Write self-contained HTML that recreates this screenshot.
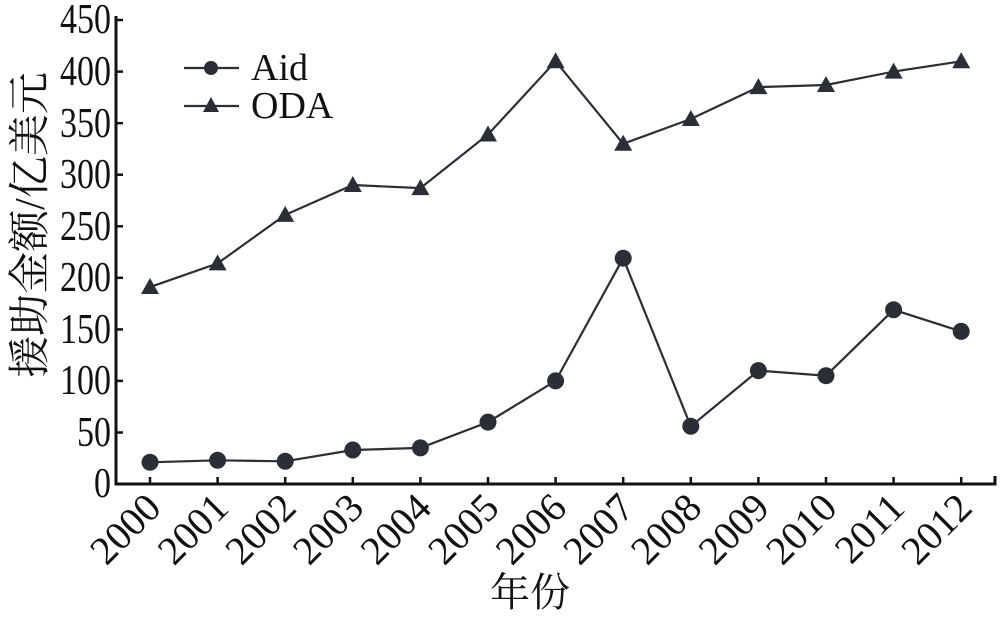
<!DOCTYPE html>
<html><head><meta charset="utf-8"><style>body{margin:0;background:#fff}svg,text{font-family:"Liberation Serif","Times New Roman","Noto Serif CJK SC",serif}</style></head><body>
<svg width="1000" height="614" xmlns="http://www.w3.org/2000/svg">
<path d="M116,16 V484 H995 V476" stroke="#111" stroke-width="3" fill="none"/>
<g stroke="#111" stroke-width="2.5">
<line x1="116" y1="432.5" x2="123" y2="432.5"/><line x1="116" y1="380.9" x2="123" y2="380.9"/><line x1="116" y1="329.4" x2="123" y2="329.4"/><line x1="116" y1="277.8" x2="123" y2="277.8"/><line x1="116" y1="226.3" x2="123" y2="226.3"/><line x1="116" y1="174.7" x2="123" y2="174.7"/><line x1="116" y1="123.2" x2="123" y2="123.2"/><line x1="116" y1="71.6" x2="123" y2="71.6"/><line x1="116" y1="20" x2="123" y2="20"/>
<line x1="150" y1="484" x2="150" y2="477"/><line x1="217.6" y1="484" x2="217.6" y2="477"/><line x1="285.2" y1="484" x2="285.2" y2="477"/><line x1="352.8" y1="484" x2="352.8" y2="477"/><line x1="420.4" y1="484" x2="420.4" y2="477"/><line x1="488" y1="484" x2="488" y2="477"/><line x1="555.6" y1="484" x2="555.6" y2="477"/><line x1="623.2" y1="484" x2="623.2" y2="477"/><line x1="690.8" y1="484" x2="690.8" y2="477"/><line x1="758.4" y1="484" x2="758.4" y2="477"/><line x1="826" y1="484" x2="826" y2="477"/><line x1="893.6" y1="484" x2="893.6" y2="477"/><line x1="961.2" y1="484" x2="961.2" y2="477"/>
</g>
<g font-size="42" fill="#111">
<text x="94" y="497" textLength="17" lengthAdjust="spacingAndGlyphs">0</text>
<text x="77" y="446" textLength="34" lengthAdjust="spacingAndGlyphs">50</text>
<text x="60" y="394" textLength="51" lengthAdjust="spacingAndGlyphs">100</text>
<text x="60" y="343" textLength="51" lengthAdjust="spacingAndGlyphs">150</text>
<text x="60" y="291" textLength="51" lengthAdjust="spacingAndGlyphs">200</text>
<text x="60" y="240" textLength="51" lengthAdjust="spacingAndGlyphs">250</text>
<text x="60" y="188" textLength="51" lengthAdjust="spacingAndGlyphs">300</text>
<text x="60" y="137" textLength="51" lengthAdjust="spacingAndGlyphs">350</text>
<text x="60" y="85" textLength="51" lengthAdjust="spacingAndGlyphs">400</text>
<text x="60" y="33" textLength="51" lengthAdjust="spacingAndGlyphs">450</text>
</g>
<g font-size="40" fill="#111" text-anchor="end">
<text transform="translate(163,510) rotate(-45)">2000</text>
<text transform="translate(230.6,510) rotate(-45)">2001</text>
<text transform="translate(298.2,510) rotate(-45)">2002</text>
<text transform="translate(365.8,510) rotate(-45)">2003</text>
<text transform="translate(433.4,510) rotate(-45)">2004</text>
<text transform="translate(501,510) rotate(-45)">2005</text>
<text transform="translate(568.6,510) rotate(-45)">2006</text>
<text transform="translate(636.2,510) rotate(-45)">2007</text>
<text transform="translate(703.8,510) rotate(-45)">2008</text>
<text transform="translate(771.4,510) rotate(-45)">2009</text>
<text transform="translate(839,510) rotate(-45)">2010</text>
<text transform="translate(906.6,510) rotate(-45)">2011</text>
<text transform="translate(974.2,510) rotate(-45)">2012</text>
</g>
<polyline points="150,462.3 217.6,460.3 285.2,461.3 352.8,450 420.4,447.9 488,422.1 555.6,380.9 623.2,258.2 690.8,426.3 758.4,370.6 826,375.7 893.6,309.8 961.2,331.4" fill="none" stroke="#2a2f35" stroke-width="2.2"/>
<polyline points="150,287.1 217.6,263.4 285.2,214.9 352.8,185 420.4,188.1 488,134.5 555.6,61.3 623.2,143.8 690.8,119 758.4,87.1 826,85 893.6,71.6 961.2,61.3" fill="none" stroke="#2a2f35" stroke-width="2.2"/>
<g fill="#2a2f35">
<circle cx="150" cy="462.3" r="8.5"/><circle cx="217.6" cy="460.3" r="8.5"/><circle cx="285.2" cy="461.3" r="8.5"/><circle cx="352.8" cy="450" r="8.5"/><circle cx="420.4" cy="447.9" r="8.5"/><circle cx="488" cy="422.1" r="8.5"/><circle cx="555.6" cy="380.9" r="8.5"/><circle cx="623.2" cy="258.2" r="8.5"/><circle cx="690.8" cy="426.3" r="8.5"/><circle cx="758.4" cy="370.6" r="8.5"/><circle cx="826" cy="375.7" r="8.5"/><circle cx="893.6" cy="309.8" r="8.5"/><circle cx="961.2" cy="331.4" r="8.5"/>
<polygon points="150,278 141,294 159,294"/><polygon points="217.6,254.4 208.6,270.4 226.6,270.4"/><polygon points="285.2,205.9 276.2,221.9 294.2,221.9"/><polygon points="352.8,176 343.8,192 361.8,192"/><polygon points="420.4,179.1 411.4,195.1 429.4,195.1"/><polygon points="488,125.5 479,141.5 497,141.5"/><polygon points="555.6,52.3 546.6,68.3 564.6,68.3"/><polygon points="623.2,134.8 614.2,150.8 632.2,150.8"/><polygon points="690.8,110 681.8,126 699.8,126"/><polygon points="758.4,78.1 749.4,94.1 767.4,94.1"/><polygon points="826,76 817,92 835,92"/><polygon points="893.6,62.6 884.6,78.6 902.6,78.6"/><polygon points="961.2,52.3 952.2,68.3 970.2,68.3"/>
<circle cx="211" cy="68" r="7"/><polygon points="211,97 203,112 219,112"/>
</g>
<line x1="184" y1="68" x2="239" y2="68" stroke="#2a2f35" stroke-width="2.2"/>
<line x1="184" y1="106" x2="239" y2="106" stroke="#2a2f35" stroke-width="2.2"/>
<text x="251" y="80" font-size="38" fill="#111">Aid</text>
<text x="251" y="118" font-size="38" fill="#111">ODA</text>
<text x="530" y="606" text-anchor="middle" font-size="40" fill="#111">年份</text>
<text transform="translate(44,225) rotate(-90)" text-anchor="middle" font-size="42" fill="#111">援助金额/亿美元</text>
</svg>
</body></html>
